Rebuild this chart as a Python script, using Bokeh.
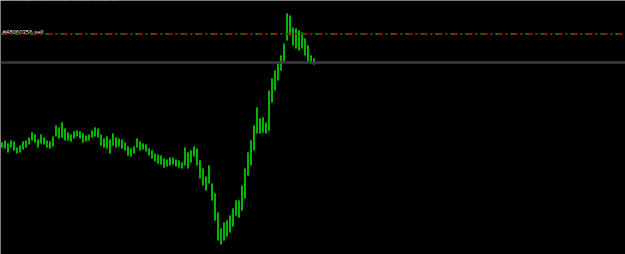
from bokeh.plotting import figure
from bokeh.models import Range1d, ColumnDataSource, Span
from bokeh.core.properties import value
from bokeh.embed import file_html
from bokeh.resources import INLINE

# bar highs / lows (price points), one bar per index
highs = [112, 114, 111, 114, 113, 107, 109, 113, 114, 117,
         122, 120, 115, 120, 117, 114, 113, 118, 129, 127,
         132, 126, 122, 120, 123, 124, 123, 121, 119, 120,
         124, 127, 126, 120, 116, 118, 115, 121, 117, 116,
         115, 112, 108, 106, 108, 116, 113, 111, 110, 106,
         104, 101, 100, 99, 96, 95, 97, 97, 95, 94,
         92, 107, 102, 104, 108, 106, 94, 86, 78, 89,
         71, 61, 42, 26, 32, 34, 39, 46, 54, 54,
         69, 86, 102, 114, 129, 147, 136, 137, 132, 164,
         176, 184, 191, 199, 211, 241, 239, 227, 226, 224,
         222, 216, 209, 199, 196]
lows = [107, 106, 102, 107, 104, 101, 102, 105, 107, 110,
        114, 112, 107, 111, 110, 107, 106, 108, 118, 116,
        117, 114, 114, 113, 116, 118, 116, 112, 113, 114,
        117, 118, 117, 109, 107, 106, 101, 109, 107, 108,
        106, 104, 99, 98, 101, 107, 104, 105, 103, 99,
        96, 93, 91, 90, 87, 88, 89, 90, 88, 87,
        86, 89, 86, 92, 98, 89, 76, 69, 64, 71,
        54, 34, 14, 10, 14, 18, 22, 28, 39, 37,
        44, 56, 79, 89, 104, 121, 121, 122, 121, 124,
        152, 164, 174, 184, 192, 214, 219, 209, 206, 204,
        206, 199, 192, 191, 190]
bars = list(range(len(highs)))

order_level = 220.5
current_price = 192
order_label = "#48060356 sell"
header_text = "EURUSD,M1 1.0841 1.0842 1.0840 1.0841"

W, H = 625, 254
p = figure(width=W, height=H, output_backend="svg", toolbar_location=None,
           x_range=Range1d(-0.5, -0.5 + W / 3.0), y_range=Range1d(0, H),
           background_fill_color="#000000", border_fill_color="#000000",
           min_border=0, outline_line_color=None)
p.xaxis.visible = False
p.yaxis.visible = False
p.grid.visible = False

src = ColumnDataSource(dict(x=bars, high=highs, low=lows))

# current price line
p.add_layout(Span(location=current_price, dimension="width",
                  line_color="#3a3a44", line_width=2.5))

# order level: red/green dash-dot
p.add_layout(Span(location=order_level, dimension="width",
                  line_color="#b00000", line_width=2, line_dash="7 3 2 3"))
p.add_layout(Span(location=order_level, dimension="width",
                  line_color="#007000", line_width=2, line_dash="3 7 1 4"))

# bars
p.vbar(x="x", width=0.6, top="high", bottom="low", source=src,
       fill_color="#006a00", line_color=None)
p.segment(x0="x", x1="x", y0="low", y1="high", source=src,
          line_color="#00dc00", line_width=1.4)

p.text(x=[0.17], y=[order_level + 2], text=[order_label],
       text_font=value("Liberation Sans"), text_font_size="6px",
       text_color="#e0e6f0", text_baseline="alphabetic")
p.text(x=[-0.2], y=[H + 1.5], text=[header_text],
       text_font=value("Liberation Sans"), text_font_size="6px",
       text_color="#c0c8d8", text_baseline="alphabetic")

open("out.html", "w").write(file_html(p, INLINE))
